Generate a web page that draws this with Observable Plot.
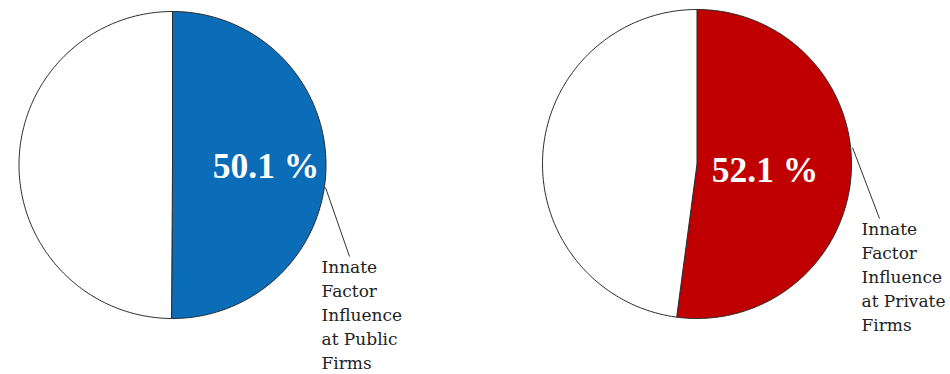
<!DOCTYPE html>
<html>
<head>
<meta charset="utf-8">
<script src="https://cdn.jsdelivr.net/npm/d3@7"></script>
<script src="https://cdn.jsdelivr.net/npm/@observablehq/plot@0.6"></script>
<style>
  html, body { margin: 0; padding: 0; background: #fff; }
</style>
</head>
<body>
<div id="chart"></div>
<script>
// ---- data ----
const groups = ["Public Firms", "Private Firms"];
const innateShare = [50.1, 52.1];          // % share of innate factor
const pctLabels = ["50.1 %", "52.1 %"];
const calloutLabels = [
  "Innate\nFactor\nInfluence\nat Public\nFirms",
  "Innate\nFactor\nInfluence\nat Private\nFirms"
];

// ---- styles / layout ----
const sliceColors = ["#0b6cb8", "#c00000"];
const restColor = "#ffffff";
const W = 950, H = 374;
const centers = [[172, 164.5], [696.5, 163.5]];
const radii = [153.5, 154.5];
const pctPos = [[265.5, 166], [764.5, 170]];
const leaderStart = [[325, 187], [852, 147]];
const leaderEnd = [[349, 256], [879, 218]];
const textPos = [[321, 255], [861, 217]];

// ---- build pie polygons from data via d3.pie ----
const slicePts = [];
groups.forEach((g, i) => {
  const arcs = d3.pie().sort(null)([innateShare[i], 100 - innateShare[i]]);
  arcs.forEach((a, j) => {
    const key = g + "-" + j;
    const [cx, cy] = centers[i];
    const r = radii[i];
    const fill = j === 0 ? sliceColors[i] : restColor;
    slicePts.push({key, x: cx, y: cy, fill});
    const n = Math.max(2, Math.ceil((a.endAngle - a.startAngle) / (Math.PI / 180)));
    for (let k = 0; k <= n; k++) {
      const t = a.startAngle + (a.endAngle - a.startAngle) * k / n;
      slicePts.push({key, x: cx + r * Math.sin(t), y: cy - r * Math.cos(t), fill});
    }
    slicePts.push({key, x: cx, y: cy, fill});
  });
});

const pctData = groups.map((g, i) => ({x: pctPos[i][0], y: pctPos[i][1], t: pctLabels[i]}));
const calloutData = groups.map((g, i) => ({x: textPos[i][0], y: textPos[i][1], t: calloutLabels[i]}));
const leaders = groups.map((g, i) => ({x1: leaderStart[i][0], y1: leaderStart[i][1], x2: leaderEnd[i][0], y2: leaderEnd[i][1]}));

const chart = Plot.plot({
  width: W,
  height: H,
  margin: 0,
  x: {domain: [0, W], range: [0, W], axis: null},
  y: {domain: [0, H], range: [0, H], axis: null},
  color: {type: "identity"},
  marks: [
    Plot.line(slicePts, {x: "x", y: "y", z: "key", fill: "fill", stroke: "#2a2a2a", strokeWidth: 1, curve: "linear", strokeLinejoin: "round"}),
    Plot.link(leaders, {x1: "x1", y1: "y1", x2: "x2", y2: "y2", stroke: "#333", strokeWidth: 1}),
    Plot.text(pctData, {x: "x", y: "y", text: "t", fill: "white", fontSize: 35.5, fontWeight: "bold", fontFamily: "'Liberation Serif', serif", textAnchor: "middle", lineAnchor: "middle"}),
    Plot.text(calloutData, {x: "x", y: "y", text: "t", fill: "#222", fontSize: 17, fontFamily: "'DejaVu Serif', serif", textAnchor: "start", lineAnchor: "top", lineHeight: 1.42})
  ]
});
document.getElementById("chart").appendChild(chart);
</script>
</body>
</html>
